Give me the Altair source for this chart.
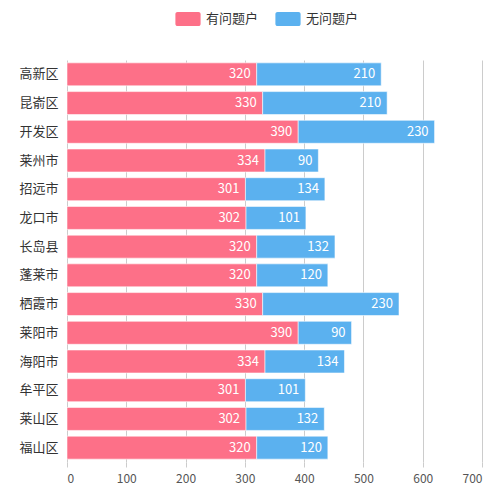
import altair as alt
import pandas as pd

regions = ["高新区", "昆嵛区", "开发区", "莱州市", "招远市", "龙口市", "长岛县",
           "蓬莱市", "栖霞市", "莱阳市", "海阳市", "牟平区", "莱山区", "福山区"]
problem = [320, 330, 390, 334, 301, 302, 320, 320, 330, 390, 334, 301, 302, 320]
no_problem = [210, 210, 230, 90, 134, 101, 132, 120, 230, 90, 134, 101, 132, 120]
series = ["有问题户", "无问题户"]
colors = ["#fd7088", "#5bb1ef"]
x_ticks = [0, 100, 200, 300, 400, 500, 600, 700]

rows = []
for i, r in enumerate(regions):
    rows.append({"region": r, "series": series[0], "value": problem[i], "ord": 0})
    rows.append({"region": r, "series": series[1], "value": no_problem[i], "ord": 1})
df = pd.DataFrame(rows)

FONT = "Noto Sans CJK SC"

base = alt.Chart(df).transform_stack(
    stack="value", groupby=["region"], as_=["v0", "v1"],
    sort=[alt.SortField("ord", order="ascending")]
)

y_enc = alt.Y("region:N", sort=regions, title=None,
              scale=alt.Scale(paddingInner=0.2, paddingOuter=0.1),
              axis=alt.Axis(ticks=False, domain=False, labelPadding=9,
                            labelFontSize=13, labelColor="#333333", labelFont=FONT,
                            grid=False))

rounded = ("M-1.5,-1 L1.5,-1 A0.3,0.3 0 0 1 1.8,-0.7 L1.8,0.7 A0.3,0.3 0 0 1 1.5,1 "
           "L-1.5,1 A0.3,0.3 0 0 1 -1.8,0.7 L-1.8,-0.7 A0.3,0.3 0 0 1 -1.5,-1 Z")

bars = base.mark_bar(stroke="#ffffff", strokeWidth=0.8, strokeOpacity=0.7).encode(
    x=alt.X("v0:Q", title=None,
            scale=alt.Scale(domain=[0, 700], nice=False),
            axis=alt.Axis(values=x_ticks, grid=True, gridColor="#cccccc", domain=False,
                          ticks=True, tickColor="#cccccc", tickSize=5,
                          labelFontSize=12, labelColor="#555555", labelFont=FONT,
                          labelPadding=6)),
    x2="v1:Q",
    y=y_enc,
    color=alt.Color("series:N", scale=alt.Scale(domain=series, range=colors),
                    legend=alt.Legend(title=None, orient="none", direction="horizontal",
                                      legendX=114, legendY=-48,
                                      symbolType=rounded,
                                      symbolSize=196, symbolStrokeWidth=0,
                                      labelFontSize=13, labelColor="#333333", labelFont=FONT,
                                      columnPadding=16, labelOffset=11)),
)

labels = base.mark_text(align="right", baseline="middle", dx=-6, color="white",
                        fontSize=13, font=FONT).encode(
    x="v1:Q",
    y=alt.Y("region:N", sort=regions),
    text="value:Q",
)

chart = (bars + labels).properties(
    width=415, height=402,
    padding={"left": 59, "top": 52, "right": 10, "bottom": 26},
    autosize=alt.AutoSizeParams(type="none"),
).configure_view(stroke=None)

chart.save("out.html", embed_options={"renderer": "svg", "actions": False})
